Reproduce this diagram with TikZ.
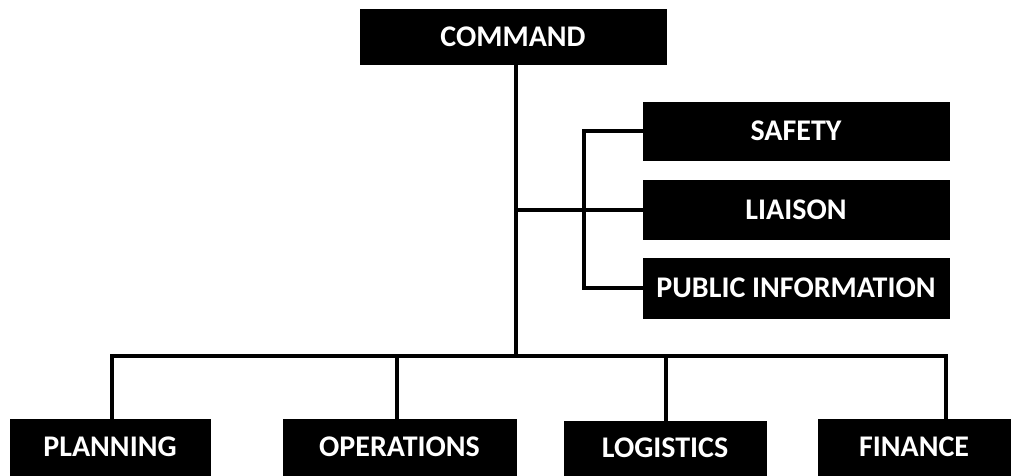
\documentclass[tikz,border=0pt]{standalone}
\usepackage{fontspec}
\setmainfont{Carlito}
\usepackage{tikz}
\usetikzlibrary{positioning,calc}
\tikzset{
  unit/.style={fill=black,draw=black,text=white,font=\bfseries\fontsize{30}{34}\selectfont,
    inner sep=0pt,align=center},
  link/.style={line width=4pt,draw=black},
}

\begin{document}
\begin{tikzpicture}[x=1pt,y=-1pt]
\useasboundingbox[fill=white] (0,0) rectangle (1024,475);
\clip (0,0) rectangle (1024,475);
% command and staff
\node[unit,minimum width=306,minimum height=55] (cmd) at (513,36.5) {\raisebox{-2pt}{COMMAND}};
\node[unit,minimum width=306,minimum height=58] (safety) at (796,131) {SAFETY};
\node[unit,minimum width=306,minimum height=59] (liaison) at (796,210) {LIAISON};
\node[unit,minimum width=306,minimum height=60] (pubinfo) at (796,288) {PUBLIC INFORMATION};
% sections
\node[unit,minimum width=200,minimum height=56] (planning) at (110,447) {PLANNING};
\node[unit,minimum width=233,minimum height=56] (operations) at (399.5,447) {OPERATIONS};
\node[unit,minimum width=202,minimum height=54] (logistics) at (665,448) {LOGISTICS};
\node[unit,minimum width=192,minimum height=56] (finance) at (914,447) {FINANCE};
\coordinate (bus) at (516,356);
\coordinate (staff) at (516,210);
\draw[link] (cmd.south -| bus) -- (bus);
\draw[link] (staff) -- (liaison.west);
\draw[link] (safety.west) -- ++(-59,0) |- (pubinfo.west);
\draw[link] ([xshift=2]planning.north) |- (bus) -| ([xshift=32]finance.north);
\draw[link] ([xshift=-3]operations.north) -- ([xshift=-3]operations.north |- bus);
\draw[link] ([xshift=1]logistics.north) -- ([xshift=1]logistics.north |- bus);
\end{tikzpicture}
\end{document}
